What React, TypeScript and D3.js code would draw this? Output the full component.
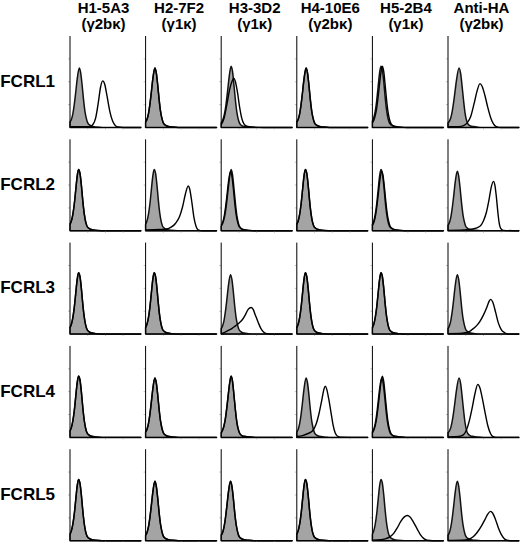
import React from 'react';
import * as d3 from 'd3';

// column headers (clone name + isotype) and row labels
const clones = ['H1-5A3', 'H2-7F2', 'H3-3D2', 'H4-10E6', 'H5-2B4', 'Anti-HA'];
const isotypes = ['(γ2bκ)', '(γ1κ)', '(γ1κ)', '(γ2bκ)', '(γ1κ)', '(γ2bκ)'];
const rowLabels = ['FCRL1', 'FCRL2', 'FCRL3', 'FCRL4', 'FCRL5'];

// histogram outlines: [channel % of axis, count % of axis height]
type Pt = [number, number];

// isotype control (gray filled) shapes
const gray12: Pt[] = [[0, 7], [2, 11], [4, 18], [6, 29], [8, 44], [10, 59], [12, 67], [14, 63], [16, 50], [18, 33], [20, 19], [22, 10], [24, 5], [27, 2.5], [31, 1.2], [36, 0.5], [45, 0], [100, 0]];
const gray13: Pt[] = [[0, 6], [2, 9], [4, 15], [6, 25], [8, 38], [10, 52], [13, 65], [15, 60], [17, 47], [19, 31], [21, 18], [23, 10], [25, 5], [28, 2.5], [32, 1.2], [38, 0.5], [46, 0], [100, 0]];
const gray14: Pt[] = [[0, 5], [2, 8], [4, 13], [6, 21], [8, 33], [10, 47], [12, 60], [14, 67], [16, 61], [18, 46], [20, 30], [22, 17], [24, 9], [26, 4.5], [29, 2], [34, 1], [40, 0.4], [48, 0], [100, 0]];
const gray155: Pt[] = [[0, 5], [2, 7], [4, 11], [6, 18], [8, 28], [10, 40], [12, 52], [15.5, 65], [18, 58], [20, 44], [22, 29], [24, 16], [26, 8], [28, 4], [31, 2], [36, 1], [42, 0.4], [50, 0], [100, 0]];

// specific staining (open) shapes
const posR1C1: Pt[] = [[0, 1], [20, 1], [28, 1], [32, 3], [36, 10], [40, 28], [43, 44], [46, 51], [49, 47], [52, 35], [56, 18], [60, 7], [64, 2], [68, 0.5], [75, 0], [100, 0]];
const posR1C3: Pt[] = [[0, 3], [4, 10], [8, 25], [12, 42], [15, 50], [18, 54], [20, 50], [23, 38], [26, 22], [29, 10], [32, 4], [36, 1.5], [45, 0.5], [60, 0], [100, 0]];
const posR1C6: Pt[] = [[0, 1], [15, 1], [22, 2], [27, 5], [32, 12], [37, 27], [41, 40], [45, 48], [48, 45], [52, 35], [56, 22], [60, 11], [64, 4], [68, 1], [75, 0], [100, 0]];
const posR2C2: Pt[] = [[0, 1], [20, 1.5], [30, 2], [36, 4], [42, 8], [48, 16], [52, 26], [56, 40], [60, 49], [62, 46], [65, 32], [68, 15], [71, 5], [74, 1], [80, 0], [100, 0]];
const posR2C6: Pt[] = [[0, 0.5], [22, 1], [35, 2], [45, 5], [50, 11], [54, 20], [58, 35], [61, 48], [64, 54], [66, 50], [68, 38], [70, 22], [72, 9], [74, 3], [78, 0.5], [100, 0]];
const posR3C3: Pt[] = [[0, 0], [5, 2], [10, 4], [15, 6], [20, 9], [25, 12], [30, 16], [34, 21], [38, 27], [42, 29], [45, 27], [48, 21], [52, 13], [56, 6], [60, 2], [64, 0.5], [70, 0], [100, 0]];
const posR3C6: Pt[] = [[0, 0.5], [20, 1], [28, 2], [34, 5], [40, 9], [45, 14], [50, 21], [55, 30], [58, 36], [60, 38], [63, 35], [67, 24], [71, 12], [75, 5], [80, 1.5], [85, 0], [100, 0]];
const posR4C4: Pt[] = [[0, 1], [8, 2], [15, 4], [22, 7], [27, 14], [31, 25], [35, 40], [38, 52], [40, 56], [42, 53], [45, 42], [48, 28], [51, 14], [54, 5], [57, 1.5], [62, 0.3], [100, 0]];
const posR4C6: Pt[] = [[0, 0.5], [15, 1], [22, 3], [26, 8], [30, 18], [34, 32], [38, 48], [42, 58], [45, 54], [48, 44], [52, 28], [56, 13], [60, 4], [63, 1], [68, 0], [100, 0]];
const posR5C5: Pt[] = [[0, 0.5], [12, 1], [18, 2], [24, 4], [30, 8], [35, 14], [40, 21], [45, 26], [49, 27.5], [53, 26], [58, 20], [63, 13], [68, 6], [73, 2], [77, 0.5], [85, 0], [100, 0]];
const posR5C6: Pt[] = [[0, 0.3], [20, 0.5], [29, 1.5], [35, 4], [41, 9], [47, 16], [52, 23], [56, 29], [60, 32], [63, 30], [67, 23], [71, 14], [75, 7], [79, 2.5], [83, 0.5], [90, 0], [100, 0]];

// per panel: [control, stain], row by row
const panels: [Pt[], Pt[]][][] = [
  [[gray13, posR1C1], [gray13, gray13], [gray14, posR1C3], [gray13, gray13], [gray12, gray14], [gray155, posR1C6]],
  [[gray12, gray12], [gray12, posR2C2], [gray14, gray13], [gray12, gray12], [gray12, gray13], [gray13, posR2C6]],
  [[gray12, gray12], [gray12, gray12], [gray13, posR3C3], [gray12, gray12], [gray12, gray12], [gray13, posR3C6]],
  [[gray12, gray12], [gray13, gray13], [gray14, gray14], [gray13, posR4C4], [gray13, gray14], [gray155, posR4C6]],
  [[gray12, gray12], [gray13, gray13], [gray13, gray13], [gray12, gray12], [gray12, posR5C5], [gray13, posR5C6]],
];

const WIDTH = 520;
const HEIGHT = 542;
const PANEL_W = 71;
const PANEL_H = 91.5;
const LEFT0 = 70;
const COL_STEP = 75.6;
const TOP0 = 36;
const ROW_STEP = 103.3;
const FONT = 'Arial, "Liberation Sans", Helvetica, sans-serif';

const x = d3.scaleLinear().domain([0, 100]).range([0, PANEL_W]);
const y = d3.scaleLinear().domain([0, 100]).range([PANEL_H, 0]);

const area = d3.area<Pt>()
  .x(d => x(d[0]))
  .y0(PANEL_H)
  .y1(d => y(d[1]))
  .curve(d3.curveMonotoneX);

const line = d3.line<Pt>()
  .x(d => x(d[0]))
  .y(d => y(d[1]))
  .curve(d3.curveMonotoneX);

const tickVals = [25, 50, 75];

const Panel: React.FC<{ ctrl: Pt[]; stain: Pt[]; tx: number; ty: number }> = ({ ctrl, stain, tx, ty }) => (
  <g transform={`translate(${tx},${ty})`}>
    <path d={area(ctrl) || ''} fill="#a4a4a4" stroke="#111" strokeWidth={1.5} strokeLinejoin="round" />
    <path d={line(stain) || ''} fill="none" stroke="#000" strokeWidth={1.4} strokeLinejoin="round" />
    {/* faint decade ticks */}
    {tickVals.map(t => (
      <line key={'y' + t} x1={-2} x2={0} y1={y(t)} y2={y(t)} stroke="#999" strokeWidth={0.6} />
    ))}
    {tickVals.map(t => (
      <line key={'x' + t} x1={x(t)} x2={x(t)} y1={PANEL_H} y2={PANEL_H + 2} stroke="#999" strokeWidth={0.6} />
    ))}
    <line x1={0} x2={0} y1={0} y2={PANEL_H} stroke="#000" strokeWidth={1} />
    <line x1={0} x2={PANEL_W} y1={PANEL_H} y2={PANEL_H} stroke="#000" strokeWidth={1} />
  </g>
);

const App: React.FC = () => {
  return (
    <svg
      width={WIDTH}
      height={HEIGHT}
      style={{ position: 'absolute', left: 0, top: 0, background: '#fff' }}
      fontFamily={FONT}
      fontWeight="bold"
    >
      {clones.map((c, i) => {
        const cx = LEFT0 + i * COL_STEP + PANEL_W / 2 - 2;
        return (
          <g key={c}>
            <text x={cx} y={13} textAnchor="middle" fontSize={15}>{c}</text>
            <text x={cx} y={29} textAnchor="middle" fontSize={15}>{isotypes[i]}</text>
          </g>
        );
      })}
      {rowLabels.map((r, i) => (
        <text key={r} x={55} y={TOP0 + i * ROW_STEP + 50.7} textAnchor="end" fontSize={17}>{r}</text>
      ))}
      {panels.map((row, ri) =>
        row.map(([ctrl, stain], ci) => (
          <Panel
            key={`${ri}-${ci}`}
            ctrl={ctrl}
            stain={stain}
            tx={LEFT0 + ci * COL_STEP}
            ty={TOP0 + ri * ROW_STEP}
          />
        ))
      )}
    </svg>
  );
};

export default App;
